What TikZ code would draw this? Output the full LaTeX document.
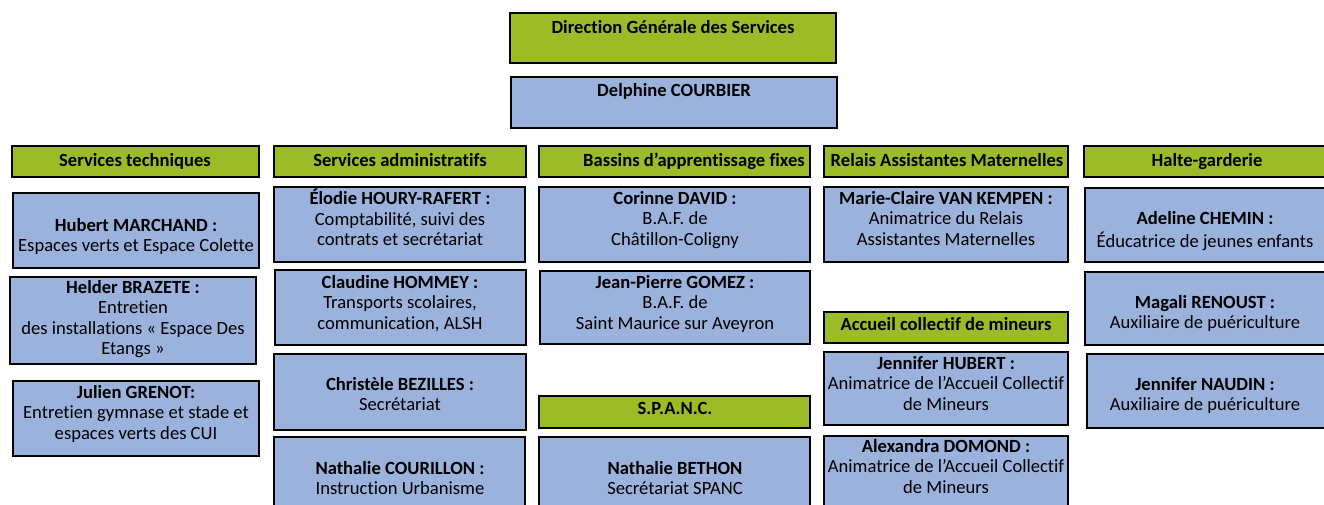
\documentclass[tikz,border=0pt]{standalone}
\usepackage{fontspec}
\setmainfont{Carlito}[Ligatures=NoCommon]
\definecolor{grn}{HTML}{9BBB27}
\definecolor{blu}{HTML}{9AB2DC}
\tikzset{
  box/.style={draw=black, line width=1.6pt, inner sep=0pt, outer sep=0pt},
  gbox/.style={box, fill=grn},
  bbox/.style={box, fill=blu},
  txt/.style={align=center, inner sep=0pt, anchor=north, font=\fontsize{18.6}{20.4}\selectfont},
}
\newcommand\bx[6]{%
  \node[#2, minimum width={#5-#3}, minimum height={#6-#4}] (#1) at ({(#3+#5)/2},{(#4+#6)/2}) {};}
\begin{document}
\begin{tikzpicture}[x=1pt,y=-1pt]
\useasboundingbox (0,0) rectangle (1324,504);
\clip (0,0) rectangle (1324,504);
% top
\bx{dgs}{gbox}{510}{13}{836}{63}
\node[txt] (dgs-t) at (673,19) {\strut\textbf{Direction Générale des Services}};
\bx{dc}{bbox}{511}{77}{837}{128}
\node[txt] (dc-t) at (674,82) {\strut\textbf{Delphine COURBIER}};
% headings
\bx{h1}{gbox}{12}{146}{259}{177}
\node[txt] (h1-t) at (135,152) {\strut\textbf{Services techniques}};
\bx{h2}{gbox}{274}{146}{526}{177}
\node[txt] (h2-t) at (400,152) {\strut\textbf{Services administratifs}};
\bx{h3}{gbox}{539}{146}{810}{177}
\node[txt] (h3-t) at (694,152) {\strut\textbf{Bassins d’apprentissage fixes}};
\bx{h4}{gbox}{824}{146}{1068}{177}
\node[txt] (h4-t) at (947,152) {\strut\textbf{Relais Assistantes Maternelles}};
\bx{h5}{gbox}{1084}{146}{1330}{177}
\node[txt] (h5-t) at (1207,152) {\strut\textbf{Halte-garderie}};
% column 1
\bx{c1a}{bbox}{13}{193}{259}{268}
\node[txt] (c1a-t) at (136,217) {\strut\textbf{Hubert MARCHAND :}\\Espaces verts et Espace Colette};
\bx{c1b}{bbox}{10}{277}{256}{364}
\node[txt] (c1b-t) at (133,279) {\strut\textbf{Helder BRAZETE :}\\Entretien\\des installations « Espace Des\\Etangs »};
\bx{c1c}{bbox}{13}{381}{259}{456}
\node[txt] (c1c-t) at (136,384) {\strut\textbf{Julien GRENOT:}\\Entretien gymnase et stade et\\espaces verts des CUI};
% column 2
\bx{c2a}{bbox}{274}{187}{525}{262}
\node[txt] (c2a-t) at (400,189) {\strut\textbf{Élodie HOURY-RAFERT :}\\Comptabilité, suivi des\\contrats et secrétariat};
\bx{c2b}{bbox}{275}{270}{526}{345}
\node[txt] (c2b-t) at (400,274) {\strut\textbf{Claudine HOMMEY :}\\Transports scolaires,\\communication, ALSH};
\bx{c2c}{bbox}{274}{354}{526}{430}
\node[txt] (c2c-t) at (400,376) {\strut\textbf{Christèle BEZILLES :}\\Secrétariat};
\bx{c2d}{bbox}{274}{437}{525}{512}
\node[txt] (c2d-t) at (400,460) {\strut\textbf{Nathalie COURILLON :}\\Instruction Urbanisme};
% column 3
\bx{c3a}{bbox}{539}{187}{810}{262}
\node[txt] (c3a-t) at (675,190) {\strut\textbf{Corinne DAVID :}\\B.A.F. de\\Châtillon-Coligny};
\bx{c3b}{bbox}{540}{271}{810}{344}
\node[txt] (c3b-t) at (675,274) {\strut\textbf{Jean-Pierre GOMEZ :}\\B.A.F. de\\Saint Maurice sur Aveyron};
\bx{h6}{gbox}{539}{396}{810}{428}
\node[txt] (h6-t) at (675,400) {\strut\textbf{S.P.A.N.C.}};
\bx{c3c}{bbox}{539}{437}{810}{512}
\node[txt] (c3c-t) at (675,460) {\strut\textbf{Nathalie BETHON}\\Secrétariat SPANC};
% column 4
\bx{c4a}{bbox}{824}{187}{1068}{262}
\node[txt] (c4a-t) at (946,190) {\strut\textbf{Marie-Claire VAN KEMPEN :}\\Animatrice du Relais\\Assistantes Maternelles};
\bx{h7}{gbox}{824}{312}{1068}{343}
\node[txt] (h7-t) at (946,316) {\strut\textbf{Accueil collectif de mineurs}};
\bx{c4b}{bbox}{824}{352}{1068}{425}
\node[txt] (c4b-t) at (946,355) {\strut\textbf{Jennifer HUBERT :}\\Animatrice de l’Accueil Collectif\\de Mineurs};
\bx{c4c}{bbox}{824}{436}{1068}{512}
\node[txt] (c4c-t) at (946,438) {\strut\textbf{Alexandra DOMOND :}\\Animatrice de l’Accueil Collectif\\de Mineurs};
% column 5
\bx{c5a}{bbox}{1085}{188}{1330}{262}
\node[txt] (c5a-t) at (1205,210) {\strut\textbf{Adeline CHEMIN :}\\Éducatrice de jeunes enfants};
\bx{c5b}{bbox}{1085}{272}{1330}{345}
\node[txt] (c5b-t) at (1205,294) {\strut\textbf{Magali RENOUST :}\\Auxiliaire de puériculture};
\bx{c5c}{bbox}{1087}{354}{1330}{428}
\node[txt] (c5c-t) at (1205,376) {\strut\textbf{Jennifer NAUDIN :}\\Auxiliaire de puériculture};
\end{tikzpicture}
\end{document}
